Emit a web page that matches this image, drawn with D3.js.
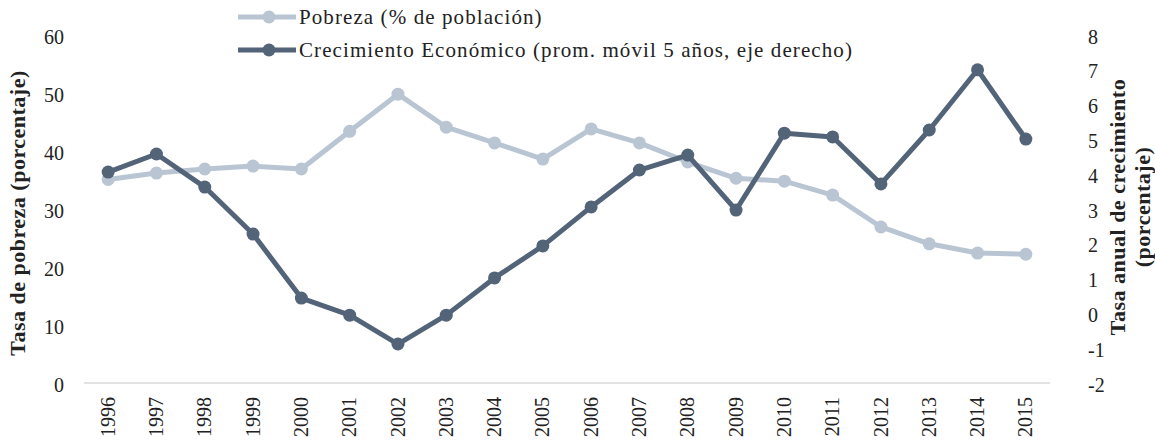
<!DOCTYPE html>
<meta charset="utf-8">
<head>
<style>
html, body {margin:0; padding:0; background:#fff;}
</style>
</head>
<script src="https://d3js.org/d3.v7.min.js"></script>
<div id="chart"></div>
<script>

// data
var years = ["1996","1997","1998","1999","2000","2001","2002","2003","2004","2005",
             "2006","2007","2008","2009","2010","2011","2012","2013","2014","2015"];
var pobreza = [35.1, 36.2, 36.9, 37.4, 36.9, 43.4, 49.8, 44.1, 41.4, 38.6,
               43.8, 41.4, 38.1, 35.3, 34.8, 32.4, 26.9, 24.0, 22.4, 22.2];
var crecimiento = [4.06, 4.58, 3.63, 2.28, 0.44, -0.05, -0.88, -0.05, 1.02, 1.94,
                   3.06, 4.12, 4.55, 2.97, 5.18, 5.07, 3.72, 5.27, 7.0, 5.01];
var leftTicks = [0, 10, 20, 30, 40, 50, 60];
var rightTicks = [-2, -1, 0, 1, 2, 3, 4, 5, 6, 7, 8];

var width = 1155, height = 444;
var margin = {top: 35, right: 105, bottom: 61, left: 84};
var serif = "'Liberation Serif', 'Times New Roman', serif";

var lightCol = "#b9c5d3", darkCol = "#536479";

var svg = d3.select("#chart").append("svg")
  .attr("width", width)
  .attr("height", height)
  .style("font-family", serif);

var x = d3.scaleBand()
  .domain(years)
  .range([margin.left, width - margin.right]);

var yL = d3.scaleLinear()
  .domain([0, 60])
  .range([height - margin.bottom, margin.top]);

var yR = d3.scaleLinear()
  .domain([-2, 8])
  .range([height - margin.bottom, margin.top]);

// baseline
svg.append("line")
  .attr("x1", margin.left).attr("x2", width - margin.right)
  .attr("y1", yL(0)).attr("y2", yL(0))
  .style("stroke", "#d9d9d9").style("stroke-width", 1.5);

function styleTicks(sel) {
  sel.style("font-family", serif)
    .style("font-size", "20px")
    .style("fill", "#222");
}

// left axis
svg.append("g")
  .attr("transform", "translate(" + (margin.left - 20) + ",0)")
  .call(d3.axisLeft(yL).tickValues(leftTicks).tickSize(0).tickPadding(0))
  .call(function(g){ g.select(".domain").remove(); })
  .selectAll("text")
    .call(styleTicks)
    .attr("dy", "0.4em");

// right axis
svg.append("g")
  .attr("transform", "translate(" + (width - margin.right + 38) + ",0)")
  .call(d3.axisRight(yR).tickValues(rightTicks).tickSize(0).tickPadding(0)
    .tickFormat(function(d){ return String(d); }))
  .call(function(g){ g.select(".domain").remove(); })
  .selectAll("text")
    .call(styleTicks)
    .attr("dy", "0.4em");

// x axis
svg.append("g")
  .attr("transform", "translate(0," + (yL(0) + 10) + ")")
  .call(d3.axisBottom(x).tickSize(0).tickPadding(0))
  .call(function(g){ g.select(".domain").remove(); })
  .selectAll("text")
    .call(styleTicks)
    .style("text-anchor", "end")
    .attr("transform", "rotate(-90)")
    .attr("x", -4)
    .attr("y", 0)
    .attr("dy", "0.33em");

// axis titles
svg.append("text")
  .attr("transform", "translate(25," + (margin.top + (height - margin.bottom - margin.top) / 2 + 4) + ") rotate(-90)")
  .attr("text-anchor", "middle")
  .style("font-size", "22px")
  .style("font-weight", "bold")
  .style("letter-spacing", "0.5px")
  .style("fill", "#222")
  .text("Tasa de pobreza (porcentaje)");

var rt = svg.append("text")
  .attr("transform", "translate(1125,207) rotate(-90)")
  .attr("text-anchor", "middle")
  .style("font-size", "22px")
  .style("font-weight", "bold")
  .style("letter-spacing", "0.5px")
  .style("fill", "#222");
rt.append("tspan").attr("x", 0).attr("dy", 0).text("Tasa anual de crecimiento");
rt.append("tspan").attr("x", 0).attr("dy", "1.15em").text("(porcentaje)");

// lines
function drawSeries(values, yScale, col) {
  var line = d3.line()
    .x(function(d, i){ return x(years[i]) + x.bandwidth() / 2; })
    .y(function(d){ return yScale(d); });
  svg.append("path")
    .datum(values)
    .attr("d", line)
    .style("fill", "none")
    .style("stroke", col)
    .style("stroke-width", 5)
    .style("stroke-linejoin", "round");
  svg.selectAll(null)
    .data(values)
    .enter()
    .append("circle")
      .attr("cx", function(d, i){ return x(years[i]) + x.bandwidth() / 2; })
      .attr("cy", function(d){ return yScale(d); })
      .attr("r", 6.5)
      .style("fill", col);
}
drawSeries(pobreza, yL, lightCol);
drawSeries(crecimiento, yR, darkCol);

// legend
var legend = [
  {label: "Pobreza (% de población)", col: lightCol, y: 17},
  {label: "Crecimiento Económico (prom. móvil 5 años, eje derecho)", col: darkCol, y: 50}
];
var lg = svg.selectAll(".lg").data(legend).enter().append("g")
  .attr("transform", function(d){ return "translate(238," + d.y + ")"; });
lg.append("line")
  .attr("x1", 0).attr("x2", 58)
  .style("stroke", function(d){ return d.col; })
  .style("stroke-width", 5);
lg.append("circle")
  .attr("cx", 31).attr("r", 6.5)
  .style("fill", function(d){ return d.col; });
var lt = lg.append("text")
  .attr("x", 61)
  .attr("dy", "0.35em")
  .style("font-size", "21px")
  .style("fill", "#222")
  .text(function(d){ return d.label; });

// stretch legend text a little to the width of the original (wider serif face)
var longText = lt.filter(function(d, i){ return i === 1; }).node();
var len = longText.getComputedTextLength();
var nChars = legend[1].label.length;
var spacing = Math.max(0, (554 - len) / nChars);
lt.style("letter-spacing", spacing + "px");

</script>
</html>
